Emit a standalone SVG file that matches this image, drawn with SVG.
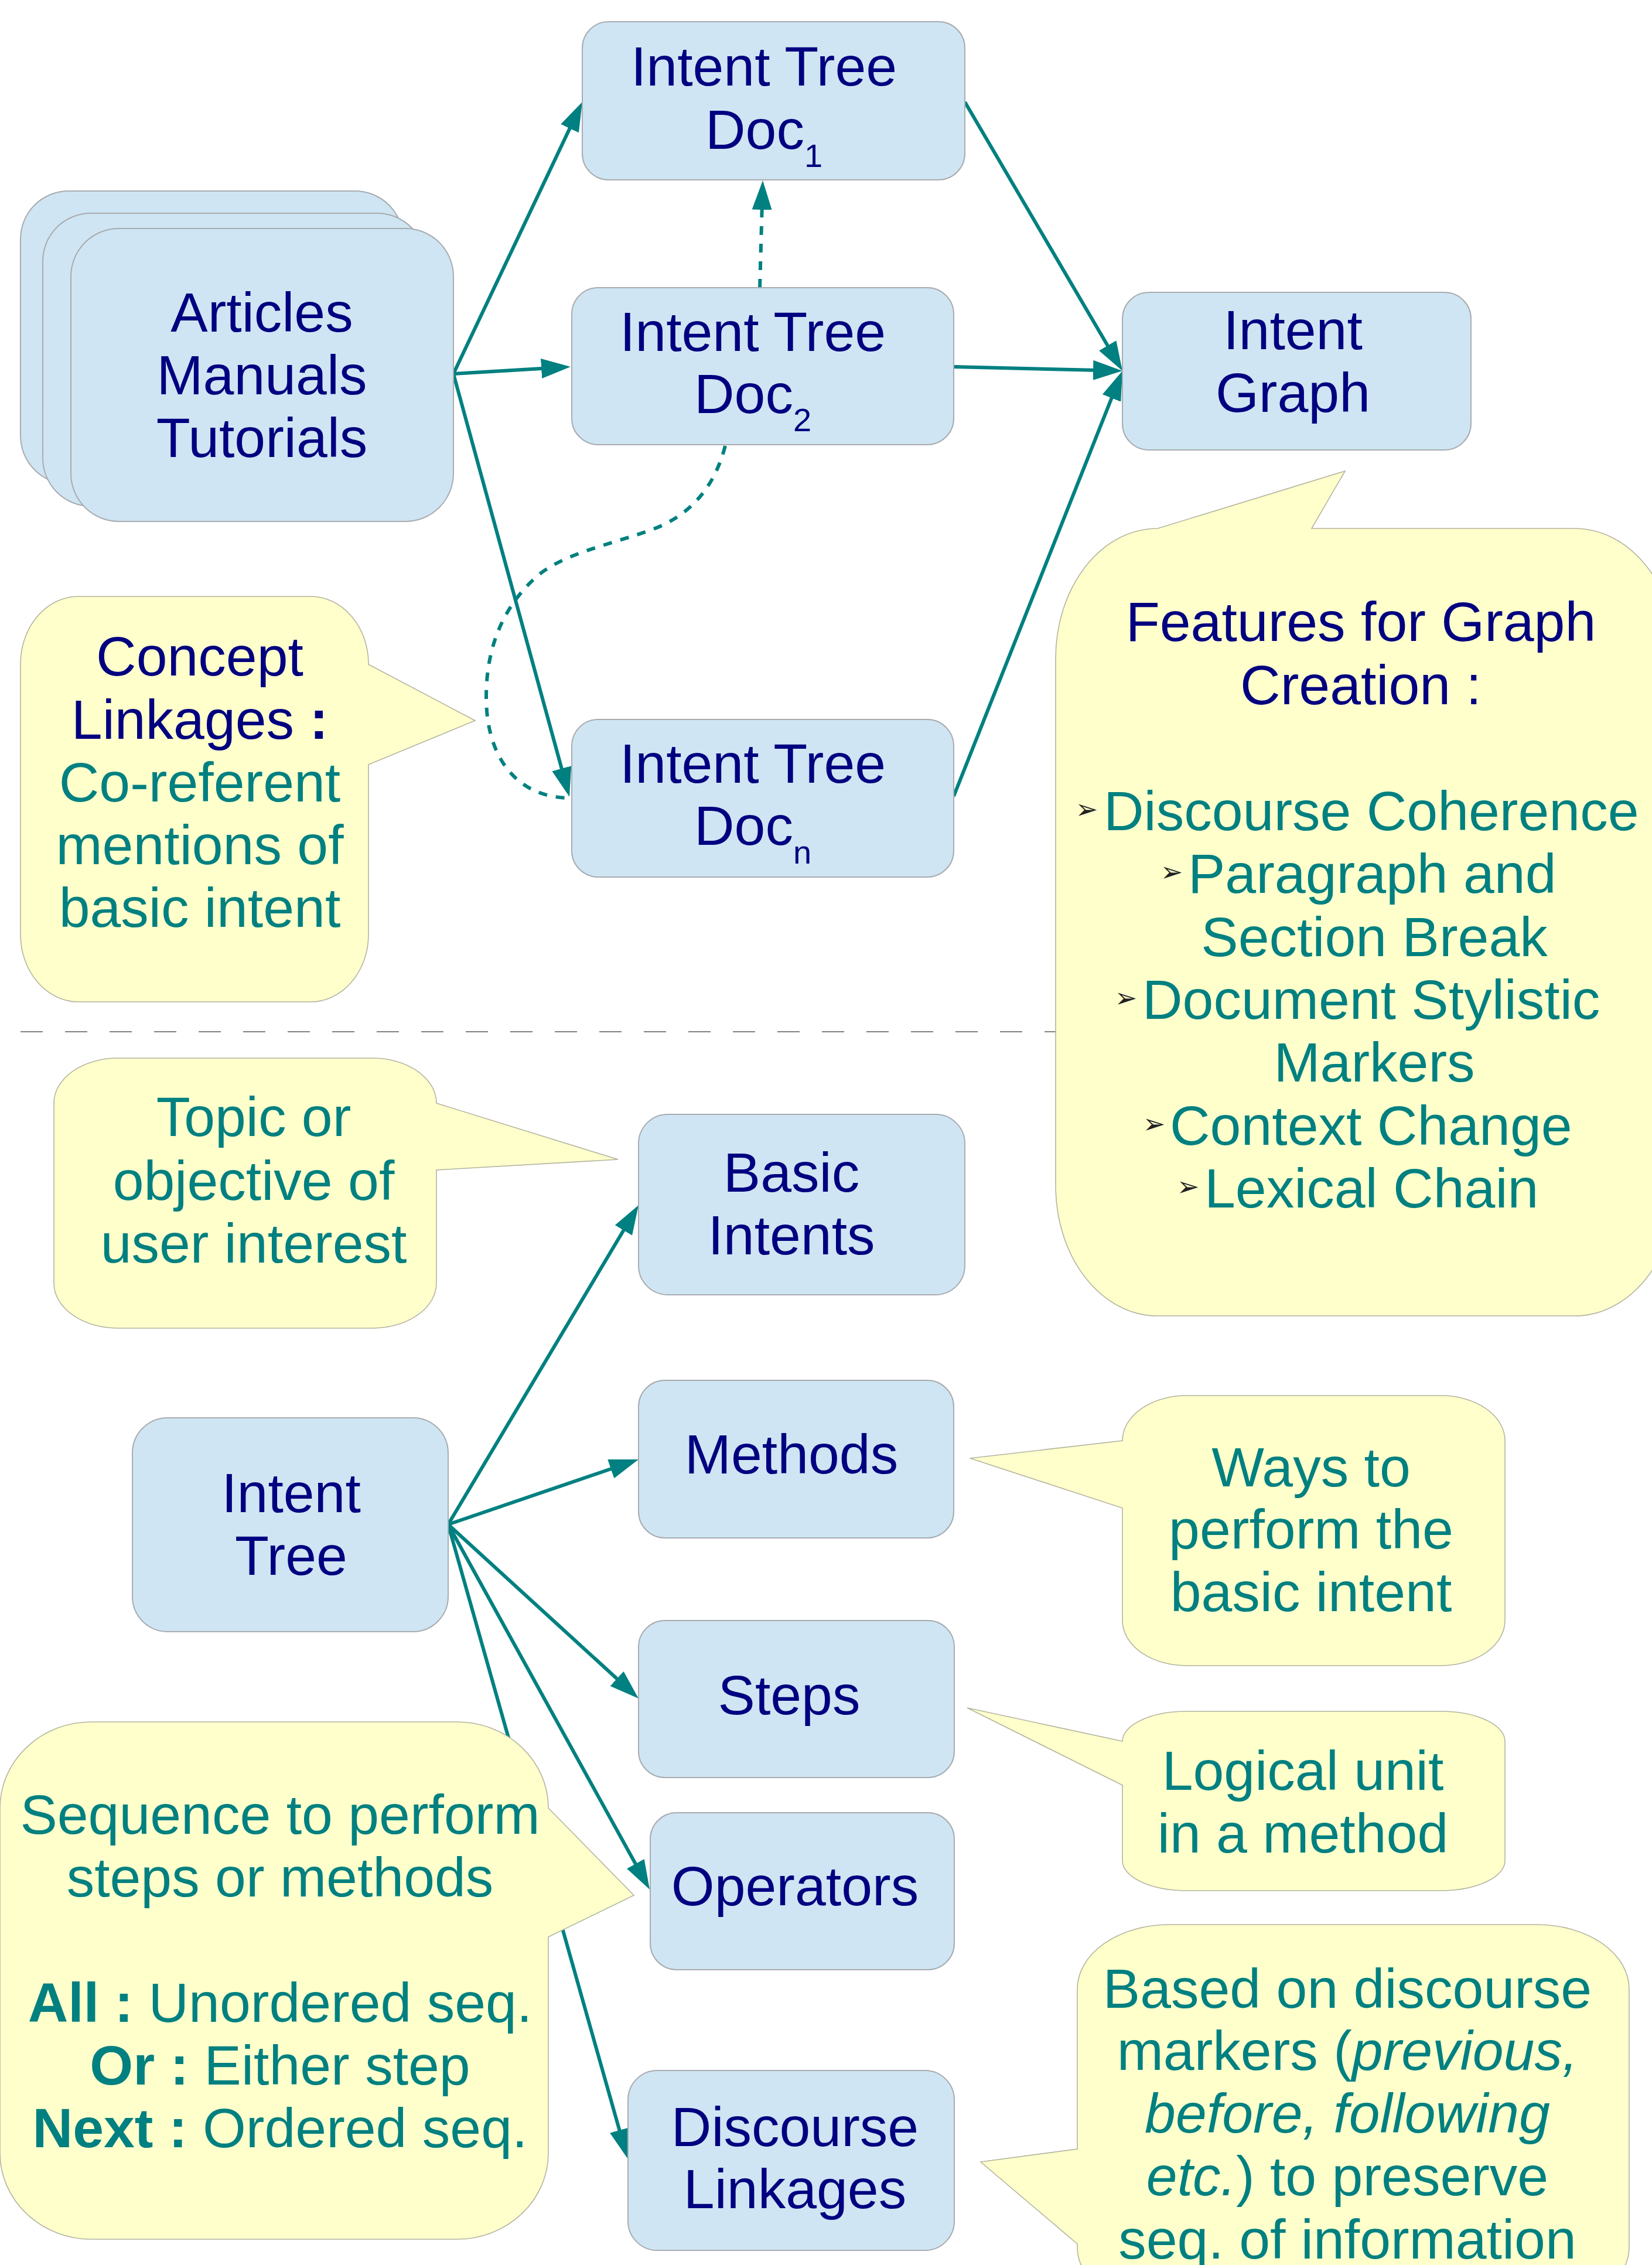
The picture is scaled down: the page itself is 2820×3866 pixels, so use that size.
<svg xmlns="http://www.w3.org/2000/svg" width="2820" height="3866" viewBox="0 0 2820 3866">
<style>
.node{fill:#cfe5f3;stroke:#a8acb0;stroke-width:2}
.call{fill:#ffffcc;stroke:#b4b4a0;stroke-width:1.6}
.t{font-family:"Liberation Sans",Arial,sans-serif;font-size:95px;text-anchor:middle}
.navy{fill:#000080}
.teal{fill:#008080}
.st{text-anchor:start}
.bul{font-family:"DejaVu Sans",sans-serif;font-size:46px;fill:#222;text-anchor:middle}
.conn{fill:none;stroke:#008080;stroke-width:6}
.dash{stroke-dasharray:15 15}
</style>
<defs>
<marker id="ah" viewBox="0 0 50 34" refX="30" refY="17" markerWidth="50" markerHeight="34" markerUnits="userSpaceOnUse" orient="auto">
<path d="M0,0 L50,17 L0,34 Z" fill="#008080"/>
</marker>
</defs>
<rect width="2820" height="3866" fill="#ffffff"/>

<line id="separator" x1="35" y1="1761" x2="1802" y2="1761" stroke="#808080" stroke-width="2" stroke-dasharray="38 38"/>

<g id="connectors">
<line class="conn" x1="774" y1="638" x2="985.4" y2="192.1" marker-end="url(#ah)"/>
<line class="conn" x1="774" y1="638" x2="954" y2="627.2" marker-end="url(#ah)"/>
<line class="conn" x1="774" y1="638" x2="966.7" y2="1340.7" marker-end="url(#ah)"/>
<line class="conn" x1="1647" y1="174" x2="1905.9" y2="615.7" marker-end="url(#ah)"/>
<line class="conn" x1="1628" y1="626" x2="1896" y2="632.5" marker-end="url(#ah)"/>
<line class="conn" x1="1628" y1="1359" x2="1908.6" y2="651.6" marker-end="url(#ah)"/>
<line class="conn dash" x1="1297" y1="491" x2="1301.5" y2="328" marker-end="url(#ah)"/>
<path class="conn dash" d="M1238,761 C1220,830 1180,880 1110,905 C1040,930 960,945 915,985 C855,1040 830,1110 830,1190 C830,1290 880,1362 974,1362"/>
<line class="conn" x1="765" y1="2602" x2="1079.8" y2="2074.2" marker-end="url(#ah)"/>
<line class="conn" x1="765" y1="2602" x2="1071.1" y2="2497.5" marker-end="url(#ah)"/>
<line class="conn" x1="765" y1="2602" x2="1075.2" y2="2885.5" marker-end="url(#ah)"/>
<line class="conn" x1="765" y1="2602" x2="1099.3" y2="3207.5" marker-end="url(#ah)"/>
<line class="conn" x1="765" y1="2602" x2="1065.6" y2="3664.8" marker-end="url(#ah)"/>
</g>

<g id="sources">
<rect class="node" x="35" y="326" width="653" height="500" rx="82" ry="82"/>
<rect class="node" x="73" y="364" width="653" height="500" rx="82" ry="82"/>
<rect class="node" x="121" y="390" width="653" height="500" rx="82" ry="82"/>
<text class="t navy" x="447" y="566">Articles</text>
<text class="t navy" x="447" y="673">Manuals</text>
<text class="t navy" x="447" y="780">Tutorials</text>
</g>

<g id="doc1">
<rect class="node" x="994" y="37" width="653" height="270" rx="45" ry="45"/>
<text class="t navy" x="1304" y="146">Intent Tree</text>
<text class="t navy" x="1304" y="254">Doc<tspan dy="31" font-size="56">1</tspan></text>
</g>

<g id="doc2">
<rect class="node" x="976" y="491" width="652" height="268" rx="45" ry="45"/>
<text class="t navy" x="1285" y="599">Intent Tree</text>
<text class="t navy" x="1285" y="705">Doc<tspan dy="31" font-size="56">2</tspan></text>
</g>

<g id="docn">
<rect class="node" x="976" y="1228" width="652" height="269" rx="45" ry="45"/>
<text class="t navy" x="1285" y="1336">Intent Tree</text>
<text class="t navy" x="1285" y="1442">Doc<tspan dy="32" font-size="56">n</tspan></text>
</g>

<g id="intent-graph">
<rect class="node" x="1916" y="499" width="595" height="269" rx="45" ry="45"/>
<text class="t navy" x="2207" y="596">Intent</text>
<text class="t navy" x="2207" y="703">Graph</text>
</g>

<g id="concept-callout">
<path class="call" d="M134,1018 H530 A99,115 0 0 1 629,1133 L629,1134 L811,1230 L629,1305 V1595 A99,115 0 0 1 530,1710 H134 A99,115 0 0 1 35,1595 V1133 A99,115 0 0 1 134,1018 Z"/>
<text class="t navy" x="341" y="1153">Concept</text>
<text class="t navy" x="341" y="1261">Linkages<tspan font-weight="bold"> :</tspan></text>
<text class="t teal" x="341" y="1368">Co-referent</text>
<text class="t teal" x="341" y="1475">mentions of</text>
<text class="t teal" x="341" y="1582">basic intent</text>
</g>

<g id="features-callout">
<path class="call" d="M1976,902 L2296,804 L2239,902 H2688 A174,222 0 0 1 2862,1124 V2024 A174,222 0 0 1 2688,2246 H1976 A174,222 0 0 1 1802,2024 V1124 A174,222 0 0 1 1976,902 Z"/>
<text class="t navy" x="2323" y="1094">Features for Graph</text>
<text class="t navy" x="2323" y="1202">Creation :</text>
<text class="bul" x="1855" y="1397">➢</text>
<text class="t teal st" x="1884" y="1417">Discourse Coherence</text>
<text class="bul" x="2000" y="1504">➢</text>
<text class="t teal st" x="2028" y="1524">Paragraph and</text>
<text class="t teal" x="2346" y="1632">Section Break</text>
<text class="bul" x="1922" y="1719">➢</text>
<text class="t teal st" x="1950" y="1739">Document Stylistic</text>
<text class="t teal" x="2346" y="1846">Markers</text>
<text class="bul" x="1970" y="1934">➢</text>
<text class="t teal st" x="1997" y="1954">Context Change</text>
<text class="bul" x="2028" y="2041">➢</text>
<text class="t teal st" x="2056" y="2061">Lexical Chain</text>
</g>

<g id="topic-callout">
<path class="call" d="M201,1806 H636 A109,77 0 0 1 745,1883 L1055,1979 L745,1997 V2190 A109,77 0 0 1 636,2267 H201 A109,77 0 0 1 92,2190 V1883 A109,77 0 0 1 201,1806 Z"/>
<text class="t teal" x="433" y="1939">Topic or</text>
<text class="t teal" x="433" y="2048">objective of</text>
<text class="t teal" x="433" y="2155">user interest</text>
</g>

<g id="basic-intents">
<rect class="node" x="1090" y="1902" width="557" height="308" rx="50" ry="50"/>
<text class="t navy" x="1351" y="2034">Basic</text>
<text class="t navy" x="1351" y="2141">Intents</text>
</g>

<g id="methods">
<rect class="node" x="1090" y="2356" width="538" height="269" rx="45" ry="45"/>
<text class="t navy" x="1351" y="2515">Methods</text>
</g>

<g id="intent-tree">
<rect class="node" x="226" y="2420" width="539" height="365" rx="60" ry="60"/>
<text class="t navy" x="497" y="2581">Intent</text>
<text class="t navy" x="497" y="2688">Tree</text>
</g>

<g id="steps">
<rect class="node" x="1090" y="2766" width="539" height="268" rx="45" ry="45"/>
<text class="t navy" x="1347" y="2926">Steps</text>
</g>

<g id="operators">
<rect class="node" x="1110" y="3094" width="519" height="268" rx="45" ry="45"/>
<text class="t navy" x="1357" y="3252">Operators</text>
</g>

<g id="discourse-linkages">
<rect class="node" x="1072" y="3534" width="557" height="307" rx="50" ry="50"/>
<text class="t navy" x="1357" y="3663">Discourse</text>
<text class="t navy" x="1357" y="3769">Linkages</text>
</g>

<g id="ways-callout">
<path class="call" d="M2025,2382 H2460 A109,77 0 0 1 2569,2459 V2766 A109,77 0 0 1 2460,2843 H2025 A109,77 0 0 1 1916,2766 V2574 L1656,2489 L1916,2459 A109,77 0 0 1 2025,2382 Z"/>
<text class="t teal" x="2238" y="2537">Ways to</text>
<text class="t teal" x="2238" y="2643">perform the</text>
<text class="t teal" x="2238" y="2750">basic intent</text>
</g>

<g id="logical-callout">
<path class="call" d="M2025,2921 H2460 A109,51 0 0 1 2569,2972 V3176 A109,51 0 0 1 2460,3227 H2025 A109,51 0 0 1 1916,3176 V3047 L1651,2915 L1916,2972 A109,51 0 0 1 2025,2921 Z"/>
<text class="t teal" x="2224" y="3055">Logical unit</text>
<text class="t teal" x="2224" y="3162">in a method</text>
</g>

<g id="sequence-callout">
<path class="call" d="M156,2939 H780 A156,147 0 0 1 936,3086 L1082,3235 L936,3306 V3675 A156,147 0 0 1 780,3822 H156 A156,147 0 0 1 0,3675 V3086 A156,147 0 0 1 156,2939 Z"/>
<text class="t teal" x="478" y="3130">Sequence to perform</text>
<text class="t teal" x="478" y="3237">steps or methods</text>
<text class="t teal" x="478" y="3451"><tspan font-weight="bold">All :</tspan> Unordered seq.</text>
<text class="t teal" x="478" y="3558"><tspan font-weight="bold">Or :</tspan> Either step</text>
<text class="t teal" x="478" y="3665"><tspan font-weight="bold">Next :</tspan> Ordered seq.</text>
</g>

<g id="discourse-callout">
<path class="call" d="M1996,3285 H2624 A157,110 0 0 1 2781,3395 V3835 A157,110 0 0 1 2624,3945 H1996 A157,110 0 0 1 1839,3835 V3830 L1674,3690 L1839,3668 V3395 A157,110 0 0 1 1996,3285 Z"/>
<text class="t teal" x="2300" y="3427">Based on discourse</text>
<text class="t teal" x="2300" y="3533">markers (<tspan font-style="italic">previous,</tspan></text>
<text class="t teal" x="2300" y="3640" font-style="italic">before, following</text>
<text class="t teal" x="2300" y="3747"><tspan font-style="italic">etc.</tspan>) to preserve</text>
<text class="t teal" x="2300" y="3855">seq. of information</text>
</g>
</svg>
